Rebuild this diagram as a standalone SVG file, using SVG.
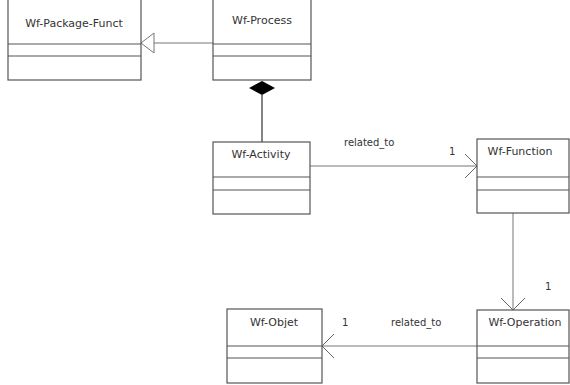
<svg xmlns="http://www.w3.org/2000/svg" width="570" height="385" viewBox="0 0 570 385">
<style>
.box{fill:#fff;stroke:#555;stroke-width:1.2}
.sep{stroke:#555;stroke-width:1.2}
.t{font-family:"DejaVu Sans",sans-serif;font-size:11px;fill:#333;text-anchor:middle}
.l{font-family:"DejaVu Sans",sans-serif;font-size:10px;fill:#333}
.c{stroke:#777;stroke-width:1;fill:none}
</style>
<defs>
<marker id="open" viewBox="0 0 14 26" refX="13" refY="13" markerWidth="14" markerHeight="26" markerUnits="userSpaceOnUse" orient="auto">
<path d="M1,1 L13,13 L1,25" fill="none" stroke="#666" stroke-width="1"/>
</marker>
<marker id="gen" viewBox="0 0 16 22" refX="14" refY="11" markerWidth="16" markerHeight="22" markerUnits="userSpaceOnUse" orient="auto">
<path d="M14,11 L1,1 L1,21 Z" fill="#fff" stroke="#777" stroke-width="1"/>
</marker>
</defs>
<rect width="570" height="385" fill="#fff"/>
<g id="connectors">
<line class="c" x1="213" y1="43" x2="141" y2="43" marker-end="url(#gen)"/>
<path d="M262,81 L275,88 L262,95 L249,88 Z" fill="#000"/>
<line x1="262" y1="95" x2="262" y2="142" stroke="#333" stroke-width="1.2"/>
<line class="c" x1="310" y1="166" x2="477" y2="166" marker-end="url(#open)"/>
<line class="c" x1="513" y1="213" x2="513" y2="310" marker-end="url(#open)"/>
<line class="c" x1="477" y1="346" x2="322" y2="346" marker-end="url(#open)"/>
<text class="l" x="344" y="146">related_to</text>
<text class="l" x="449" y="155">1</text>
<text class="l" x="545" y="290">1</text>
<text class="l" x="342" y="326">1</text>
<text class="l" x="391" y="326">related_to</text>
</g>
<g id="wf-package-funct">
<rect class="box" x="8" y="-1" width="133" height="81"/>
<line class="sep" x1="8" y1="44" x2="141" y2="44"/>
<line class="sep" x1="8" y1="56" x2="141" y2="56"/>
<text class="t" x="74" y="27">Wf-Package-Funct</text>
</g>
<g id="wf-process">
<rect class="box" x="213" y="-1" width="98" height="81"/>
<line class="sep" x1="213" y1="44" x2="311" y2="44"/>
<line class="sep" x1="213" y1="56" x2="311" y2="56"/>
<text class="t" x="262" y="24">Wf-Process</text>
</g>
<g id="wf-activity">
<rect class="box" x="213" y="142" width="97" height="72"/>
<line class="sep" x1="213" y1="177" x2="310" y2="177"/>
<line class="sep" x1="213" y1="190" x2="310" y2="190"/>
<text class="t" x="261" y="158">Wf-Activity</text>
</g>
<g id="wf-function">
<rect class="box" x="477" y="139" width="92" height="74"/>
<line class="sep" x1="477" y1="177" x2="569" y2="177"/>
<line class="sep" x1="477" y1="190" x2="569" y2="190"/>
<text class="t" x="520" y="155">Wf-Function</text>
</g>
<g id="wf-operation">
<rect class="box" x="477" y="310" width="92" height="73"/>
<line class="sep" x1="477" y1="346" x2="569" y2="346"/>
<line class="sep" x1="477" y1="358" x2="569" y2="358"/>
<text class="t" x="525" y="326">Wf-Operation</text>
</g>
<g id="wf-objet">
<rect class="box" x="227" y="309" width="95" height="74"/>
<line class="sep" x1="227" y1="346" x2="322" y2="346"/>
<line class="sep" x1="227" y1="358" x2="322" y2="358"/>
<text class="t" x="274" y="326">Wf-Objet</text>
</g>
</svg>
